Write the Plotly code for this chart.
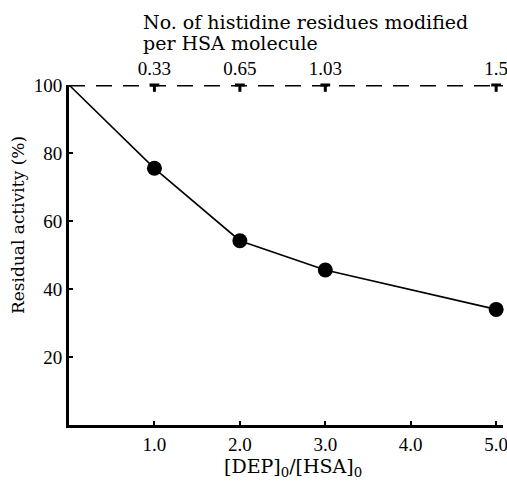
import plotly.graph_objects as go

# Data
dep_ratio = [0, 1.0, 2.0, 3.0, 5.0]
activity = [100, 75.5, 54.2, 45.6, 34.0]
marker_x = [1.0, 2.0, 3.0, 5.0]
marker_y = [75.5, 54.2, 45.6, 34.0]
x_ticks = [1.0, 2.0, 3.0, 4.0, 5.0]
x_ticktext = ["1.0", "2.0", "3.0", "4.0", "5.0"]
y_ticks = [20, 40, 60, 80, 100]
top_ticks = [1.0, 2.0, 3.0, 5.0]
top_ticktext = ["0.33", "0.65", "1.03", "1.5"]
top_level = [100, 100, 100, 100]
ref_x = [0, 5.08]
ref_y = [100, 100]

TFONT = "Liberation Serif"
LFONT = "DejaVu Serif"
XR = [0, 5.08]
L, R, T, B = 69, 4, 85, 61
PW, PH = 507 - L - R, 486 - T - B


def px(xp):
    return (xp - L) / PW


def py(yp):
    return (486 - B - yp) / PH


fig = go.Figure()
fig.add_trace(go.Scatter(x=ref_x, y=ref_y, mode="lines", xaxis="x2", yaxis="y",
                         line=dict(color="black", width=3, dash="16px,11px"),
                         cliponaxis=False, showlegend=False, hoverinfo="skip"))
# T-shaped tick marks under the dashed reference line (top scale)
fig.add_trace(go.Scatter(x=top_ticks, y=top_level, mode="markers", xaxis="x2", yaxis="y",
                         marker=dict(symbol="line-ew", size=7, color="black",
                                     line=dict(color="black", width=3)),
                         error_y=dict(type="data", symmetric=False,
                                      array=[0] * len(top_ticks),
                                      arrayminus=[2] * len(top_ticks),
                                      thickness=3, width=0, color="black"),
                         cliponaxis=False, showlegend=False, hoverinfo="skip"))
fig.add_trace(go.Scatter(x=dep_ratio, y=activity, mode="lines",
                         line=dict(color="black", width=1.6),
                         cliponaxis=False, showlegend=False))
fig.add_trace(go.Scatter(x=marker_x, y=marker_y, mode="markers",
                         marker=dict(color="black", size=15),
                         cliponaxis=False, showlegend=False))

fig.update_layout(
    width=507, height=486,
    margin=dict(l=L, r=R, t=T, b=B, autoexpand=False),
    plot_bgcolor="white", paper_bgcolor="white",
    font=dict(family=TFONT, size=16, color="black"),
    xaxis=dict(range=XR, tickvals=x_ticks, ticktext=x_ticktext,
               ticks="inside", ticklen=4, tickwidth=2, tickcolor="black",
               showline=True, linewidth=3, linecolor="black",
               showgrid=False, zeroline=False, ticklabeloverflow="allow",
               automargin=False,
               tickfont=dict(family=TFONT, size=19)),
    xaxis2=dict(range=XR, overlaying="x", side="top", anchor="y",
                tickvals=top_ticks, ticktext=top_ticktext,
                ticks="", showline=False, showgrid=False, zeroline=False,
                ticklabelstandoff=5, ticklabeloverflow="allow",
                automargin=False,
                tickfont=dict(family=TFONT, size=19)),
    yaxis=dict(range=[0, 100], tickvals=y_ticks,
               ticks="inside", ticklen=4, tickwidth=2, tickcolor="black",
               showline=True, linewidth=3, linecolor="black",
               showgrid=False, zeroline=False, automargin=False,
               tickfont=dict(family=TFONT, size=19)),
    annotations=[
        dict(text="No. of histidine residues modified",
             xref="paper", yref="paper", x=px(141), y=py(22),
             xanchor="left", yanchor="middle", showarrow=False,
             font=dict(family=LFONT, size=19)),
        dict(text="per HSA molecule",
             xref="paper", yref="paper", x=px(141), y=py(43),
             xanchor="left", yanchor="middle", showarrow=False,
             font=dict(family=LFONT, size=19)),
        dict(text="Residual activity (%)", textangle=-90,
             xref="paper", yref="paper", x=px(18), y=py(225),
             xanchor="center", yanchor="middle", showarrow=False,
             font=dict(family=LFONT, size=17)),
        dict(text="[DEP]<sub>0</sub>/[HSA]<sub>0</sub>",
             xref="paper", yref="paper", x=px(293), y=py(467),
             xanchor="center", yanchor="middle", showarrow=False,
             font=dict(family=LFONT, size=19)),
    ],
)

fig.write_html("out.html")
